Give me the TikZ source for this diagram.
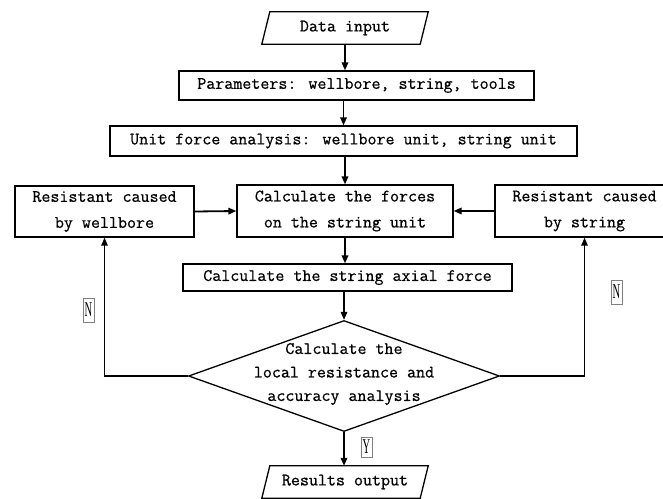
\documentclass[tikz,border=0pt]{standalone}
\usepackage{fontspec}
\newfontfamily\boxfont{Latin Modern Mono}[FakeBold=0.6]
\newfontfamily\tagfont{Liberation Serif}
\usetikzlibrary{arrows.meta,shapes.geometric}
\tikzset{
 txt/.style={font=\boxfont\fontsize{17.5}{26}\selectfont, align=center, inner sep=0pt},
 procbox/.style={txt, draw, line width=1.3pt, rectangle},
 iobox/.style={txt, minimum width=158pt, minimum height=32pt},
 arr/.style={line width=1.8pt, -{Triangle[length=8pt,width=6.5pt]}},
 fb/.style={line width=1.5pt, -{Triangle[length=8pt,width=6.5pt]}},
 tag/.style={draw=gray, line width=0.8pt, inner sep=0pt, minimum width=11pt, minimum height=24pt, font=\tagfont\fontsize{21}{21}\selectfont},
}
\begin{document}
\begin{tikzpicture}[x=1pt,y=-1pt]
\useasboundingbox (0,0) rectangle (663,498);
\clip (0,0) rectangle (663,498);
% input / output
\node[iobox] (data) at (345,28) {Data input};
\draw[line width=1.3pt] ([xshift=-4pt]data.south west) -- ([xshift=4pt]data.north west) -- ([xshift=4pt]data.north east) -- ([xshift=-4pt]data.south east) -- cycle;
\node[iobox] (res) at (345,482) {Results output};
\draw[line width=1.3pt] ([xshift=-4pt]res.south west) -- ([xshift=4pt]res.north west) -- ([xshift=4pt]res.north east) -- ([xshift=-4pt]res.south east) -- cycle;
% process boxes
\node[procbox, minimum width=355pt, minimum height=29pt] (params) at (356.5,85.5) {Parameters: wellbore, string, tools};
\node[procbox, minimum width=467pt, minimum height=30pt] (unit) at (343.5,141) {Unit force analysis: wellbore unit, string unit};
\node[procbox, minimum width=179pt, minimum height=51pt] (lbox) at (104.5,211.5) {Resistant caused\\by wellbore};
\node[procbox, minimum width=216pt, minimum height=52pt] (cbox) at (345,211) {Calculate the forces\\on the string unit};
\node[procbox, minimum width=179pt, minimum height=52pt] (rbox) at (584.5,211) {Resistant caused\\by string};
\node[procbox, minimum width=329pt, minimum height=27pt] (axial) at (347.5,277.5) {Calculate the string axial force};
% decision
\node[diamond, draw, line width=1.3pt, minimum width=311pt, minimum height=111pt, inner sep=0pt] (dec) at (344,376) {};
\node[txt, font=\boxfont\fontsize{17.5}{23.5}\selectfont] (dectext) at (344,374) {Calculate the\\local resistance and\\accuracy analysis};
% connectors
\draw[arr] (data.south) -- (data.south |- params.north);
\draw[arr] (unit.north |- params.south) -- (unit.north);
\draw[arr] (cbox.north |- unit.south) -- (cbox.north);
\draw[arr] (lbox.east) -- (cbox.west);
\draw[arr] (rbox.west) -- (cbox.east);
\draw[arr] (cbox.south) -- (cbox.south |- axial.north);
\draw[arr] (dec.north |- axial.south) -- (dec.north);
\draw[arr] (dec.south) -- (dec.south |- res.north);
\draw[fb] (dec.west) -| (lbox.south);
\draw[fb] (dec.east) -| (rbox.south);
% labels
\node[tag] (nl) at (88.5,310) {\scalebox{0.5}[1]{N}};
\node[tag] (nr) at (616.5,292) {\scalebox{0.5}[1]{N}};
\node[tag, minimum height=20pt] (yl) at (366.5,447) {\scalebox{0.5}[1]{Y}};
\end{tikzpicture}
\end{document}
